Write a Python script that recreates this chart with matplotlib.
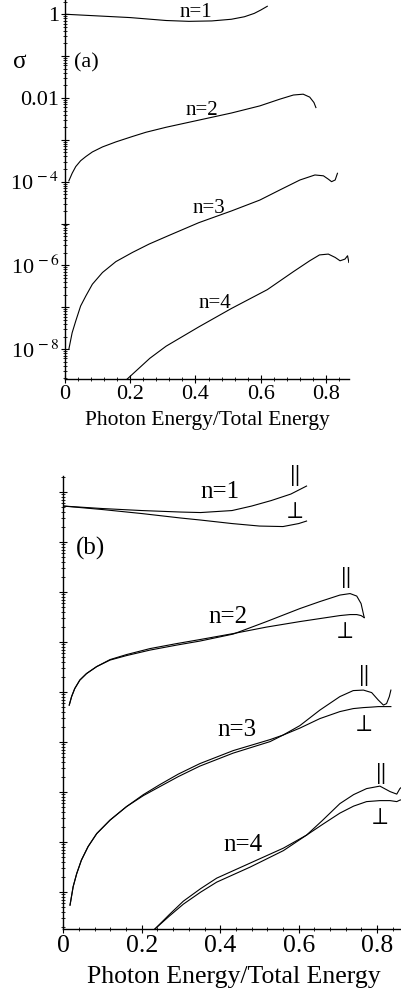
import numpy as np
import matplotlib
matplotlib.use("Agg")
import matplotlib.pyplot as plt
from matplotlib.ticker import LogLocator, FuncFormatter, MultipleLocator, NullFormatter

plt.rcParams['font.family'] = ['Liberation Serif', 'DejaVu Serif']
plt.rcParams['mathtext.fontset'] = 'stix'

# ---- panel (a): total cross section, log10 values ----
a_n1_x = [0, 0.1, 0.2, 0.31, 0.38, 0.45, 0.51, 0.55, 0.58, 0.60, 0.62]
a_n1_y = [0, -0.04, -0.08, -0.15, -0.17, -0.16, -0.12, -0.06, 0.02, 0.1, 0.19]
a_n2_x = [0.012, 0.022, 0.033, 0.048, 0.064, 0.084, 0.115, 0.156, 0.207, 0.248, 0.31, 0.41, 0.51,
          0.597, 0.658, 0.70, 0.73, 0.75, 0.763, 0.769]
a_n2_y = [-3.98, -3.80, -3.64, -3.50, -3.40, -3.29, -3.17, -3.05, -2.92, -2.82, -2.7, -2.53, -2.36,
          -2.19, -2.03, -1.93, -1.91, -1.98, -2.11, -2.23]
a_n3_x = [0.012, 0.022, 0.033, 0.048, 0.064, 0.084, 0.115, 0.156, 0.207, 0.258, 0.32, 0.41, 0.51,
          0.597, 0.658, 0.72, 0.766, 0.792, 0.807, 0.817, 0.828, 0.835]
a_n3_y = [-8.0, -7.61, -7.33, -6.97, -6.73, -6.45, -6.17, -5.91, -5.69, -5.49, -5.28, -4.98, -4.70,
          -4.44, -4.2, -3.96, -3.84, -3.86, -3.94, -4.0, -3.96, -3.8]
a_n4_x = [0.19, 0.26, 0.31, 0.41, 0.51, 0.62, 0.70, 0.75, 0.78, 0.807, 0.828, 0.843, 0.858, 0.866, 0.87]
a_n4_y = [-8.72, -8.22, -7.93, -7.47, -7.03, -6.58, -6.15, -5.89, -5.75, -5.73, -5.81, -5.89, -5.85, -5.77, -5.93]

# ---- panel (b): parallel / perpendicular polarisation, log10 values ----
b_n1_x_par = [0, 0.1, 0.2, 0.3, 0.35, 0.43, 0.48, 0.53, 0.58, 0.60, 0.62]
b_n1_par = [-0.28, -0.33, -0.37, -0.40, -0.41, -0.37, -0.28, -0.17, -0.04, 0.04, 0.12]
b_n1_x_perp = [0, 0.1, 0.2, 0.3, 0.35, 0.43, 0.5, 0.56, 0.6, 0.62]
b_n1_perp = [-0.28, -0.35, -0.43, -0.52, -0.56, -0.63, -0.68, -0.69, -0.63, -0.58]

b_n2_x = [0.015, 0.021, 0.029, 0.042, 0.059, 0.085, 0.119, 0.161, 0.221, 0.289, 0.348, 0.433, 0.518,
          0.603, 0.654, 0.705, 0.731, 0.748, 0.759, 0.767]
b_n2_par = [-4.26, -4.09, -3.93, -3.76, -3.63, -3.49, -3.36, -3.27, -3.16, -3.06, -2.98, -2.84, -2.59,
            -2.33, -2.19, -2.06, -2.03, -2.08, -2.23, -2.51]
b_n2_perp = [-4.26, -4.09, -3.93, -3.76, -3.63, -3.49, -3.35, -3.25, -3.13, -3.03, -2.95, -2.83, -2.70,
             -2.59, -2.53, -2.47, -2.45, -2.45, -2.47, -2.51]

b_n3_x = [0.017, 0.025, 0.034, 0.046, 0.063, 0.085, 0.119, 0.161, 0.204, 0.246, 0.293, 0.348, 0.433,
          0.527, 0.56, 0.603, 0.654, 0.705, 0.739, 0.765, 0.786, 0.803, 0.816, 0.824, 0.831, 0.835]
b_n3_par = [-8.26, -7.89, -7.63, -7.36, -7.09, -6.83, -6.56, -6.29, -6.07, -5.89, -5.69, -5.48, -5.22,
            -4.99, -4.86, -4.67, -4.36, -4.09, -3.97, -3.96, -4.01, -4.16, -4.26, -4.23, -4.09, -3.96]
b_n3_perp = [-8.26, -7.89, -7.63, -7.36, -7.09, -6.83, -6.56, -6.29, -6.05, -5.85, -5.64, -5.43, -5.17,
             -4.95, -4.86, -4.72, -4.53, -4.39, -4.33, -4.31, -4.30, -4.29, -4.29, -4.29, -4.29, -4.29]

b_n4_x = [0.233, 0.27, 0.306, 0.35, 0.391, 0.476, 0.561, 0.62, 0.66, 0.705, 0.74, 0.773, 0.807, 0.833,
          0.85, 0.858, 0.87]
b_n4_par = [-8.74, -8.48, -8.24, -8.0, -7.80, -7.50, -7.17, -6.86, -6.57, -6.23, -6.05, -5.93, -5.88, -5.99,
            -6.04, -5.93, -5.85]
b_n4_perp = [-8.74, -8.45, -8.18, -7.93, -7.72, -7.42, -7.12, -6.86, -6.65, -6.42, -6.28, -6.19, -6.17, -6.17,
             -6.19, -6.16, -6.14]

xticks = [0, 0.2, 0.4, 0.6, 0.8]
xlabel = "Photon Energy/Total Energy"

fig = plt.figure(figsize=(4.01, 9.98), dpi=100)
ax_a = fig.add_axes([0.162, 0.620, 0.708, 0.380])
ax_b = fig.add_axes([0.158, 0.069, 0.851, 0.454])

lw = 0.8


def style(ax, ylo, yhi, xfs, ticklab_fs):
    ax.set_yscale('log')
    ax.set_xlim(0, 0.87)
    ax.set_ylim(10.0 ** ylo, 10.0 ** yhi)
    for s in ['top', 'right']:
        ax.spines[s].set_visible(False)
    ax.spines['left'].set_linewidth(1.0)
    ax.spines['bottom'].set_linewidth(1.0)
    ax.yaxis.set_major_locator(LogLocator(base=10, numticks=30))
    ax.yaxis.set_minor_locator(LogLocator(base=10, subs=np.arange(2, 10), numticks=30))
    ax.yaxis.set_minor_formatter(NullFormatter())
    ax.set_xticks(xticks)
    ax.set_xticklabels(["0", "0.2", "0.4", "0.6", "0.8"])
    ax.xaxis.set_minor_locator(MultipleLocator(0.04))
    ax.tick_params(which='major', direction='inout', length=6, width=0.8, labelsize=ticklab_fs)
    ax.tick_params(which='minor', direction='inout', length=3, width=0.6)
    ax.tick_params(axis='x', which='major', pad=1)
    ax.set_xlabel(xlabel, fontsize=xfs)


def ylab(v, pos):
    e = int(round(np.log10(v)))
    if e % 2:
        return ""
    if e == 0:
        return "1"
    if e == -2:
        return "0.01"
    return r"$\mathregular{10}^{\,%d}$" % e


# panel (a)
for xs, ys in [(a_n1_x, a_n1_y), (a_n2_x, a_n2_y), (a_n3_x, a_n3_y), (a_n4_x, a_n4_y)]:
    ax_a.plot(xs, 10.0 ** np.array(ys), color='black', linewidth=lw)
style(ax_a, -8.72, 0.34, 15.5, 16)
ax_a.yaxis.set_major_formatter(FuncFormatter(ylab))
ax_a.tick_params(axis='y', which='major', pad=1)
ax_a.xaxis.labelpad = 5

lab_a = [("n=1", 0.40, 0.05), ("n=2", 0.42, -2.31), ("n=3", 0.44, -4.65), ("n=4", 0.46, -6.92)]
for t, x, y in lab_a:
    ax_a.text(x, 10.0 ** y, t, ha='center', va='center', fontsize=15)
ax_a.text(0.065, 10.0 ** -1.16, "(a)", ha='center', va='center', fontsize=16)
fig.text(0.05, 0.938, "σ", ha='center', va='center', fontsize=18)

# panel (b)
b_sets = [
    (b_n1_x_par, b_n1_par, b_n1_x_perp, b_n1_perp),
    (b_n2_x, b_n2_par, b_n2_x, b_n2_perp),
    (b_n3_x, b_n3_par, b_n3_x, b_n3_perp),
    (b_n4_x, b_n4_par, b_n4_x, b_n4_perp),
]
for xp, yp, xq, yq in b_sets:
    ax_b.plot(xp, 10.0 ** np.array(yp), color='black', linewidth=lw)
    ax_b.plot(xq, 10.0 ** np.array(yq), color='black', linewidth=lw)
style(ax_b, -8.74, 0.32, 18.5, 18.5)
ax_b.yaxis.set_major_formatter(NullFormatter())
ax_b.xaxis.labelpad = 7

lab_b = [("n=1", 0.40, 0.0), ("n=2", 0.42, -2.5), ("n=3", 0.442, -4.76), ("n=4", 0.458, -7.06)]
for t, x, y in lab_b:
    ax_b.text(x, 10.0 ** y, t, ha='center', va='center', fontsize=18)
ax_b.text(0.068, 10.0 ** -1.12, "(b)", ha='center', va='center', fontsize=18)

par_pos = [(0.588, 0.34), (0.718, -1.7), (0.764, -3.66), (0.807, -5.62)]
perp_pos = [(0.585, -0.40), (0.713, -2.8), (0.762, -4.66), (0.802, -6.52)]
for x, y in par_pos:
    ax_b.text(x, 10.0 ** y, r"$\Vert$", ha='center', va='center', fontsize=17)
for x, y in perp_pos:
    ax_b.text(x, 10.0 ** y, r"$\perp$", ha='center', va='center', fontsize=17)

fig.savefig("out.png", dpi=100)
